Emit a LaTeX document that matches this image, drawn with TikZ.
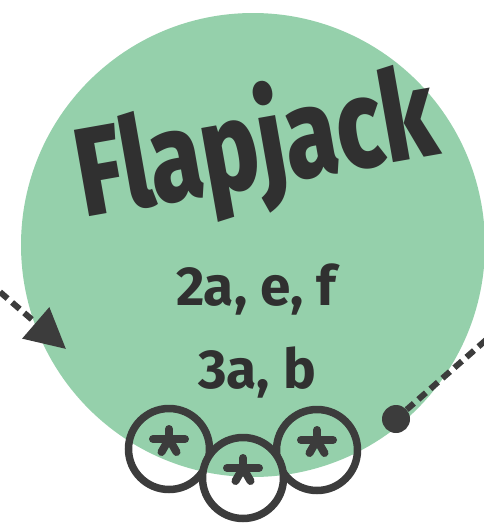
\documentclass[tikz,border=0pt]{standalone}
\usepackage{fontspec}
\setsansfont{Fira Sans}
\newfontfamily\titlefont{Fira Sans ExtraBold}
\usetikzlibrary{arrows.meta}
\definecolor{patch}{HTML}{95D0AB}
\definecolor{ink}{HTML}{3C3C3C}
\definecolor{inkt}{HTML}{303030}
\begin{document}
\begin{tikzpicture}[x=1pt,y=-1pt,
    blob/.style={circle,fill=patch,minimum size=464pt,inner sep=0pt},
    ring/.style={circle,draw=ink,line width=7.5pt,minimum size=81pt,inner sep=0pt},
    spoke/.style={draw=ink,line width=8pt,line cap=round},
    link/.style={draw=ink,line width=6pt,dash pattern=on 10pt off 6pt},
    every node/.style={text=inkt}]
    \useasboundingbox (0,0) rectangle (484,525);

    \node[blob] (cake) at (253,245) {};

    \node[rotate=10,anchor=base,font=\titlefont\fontsize{126}{126}\selectfont]
    (title) at (263,186) {\scalebox{0.76}[1]{Flapjack}};
    \node[anchor=base,font=\sffamily\bfseries\fontsize{55}{55}\selectfont]
    (codesA) at (256,305) {2a, e, f};
    \node[anchor=base,font=\sffamily\bfseries\fontsize{55}{55}\selectfont]
    (codesB) at (257,388) {3a, b};

    % rings at the bottom
    \node[ring] (ringL) at (169,449) {};
    \node[ring] (ringR) at (317,450) {};
    \begin{scope}
        \clip (243,478) circle (40.5);
        \fill[white] (243,478) circle (41);
        \fill[patch] (cake.center) circle (232);
    \end{scope}
    \node[ring] (ringM) at (243,478) {};

    \foreach \r in {ringL,ringM,ringR}
        \foreach \a/\l in {270/10,180/16,0/16,120/15,60/15}
            \draw[spoke] ([yshift=10pt]\r.center) -- ++(\a:\l);

    % in and out
    \coordinate (inL) at (0,292);
    \coordinate (tipL) at (66,349);
    \draw[link,-{Triangle[length=40pt,width=40pt]}] (inL) -- (tipL);

    \node[circle,fill=ink,minimum size=28pt,inner sep=0pt] (dotR) at (396,419) {};
    \coordinate (outR) at (486,340);
    \draw[link] (outR) -- (dotR);
\end{tikzpicture}
\end{document}
